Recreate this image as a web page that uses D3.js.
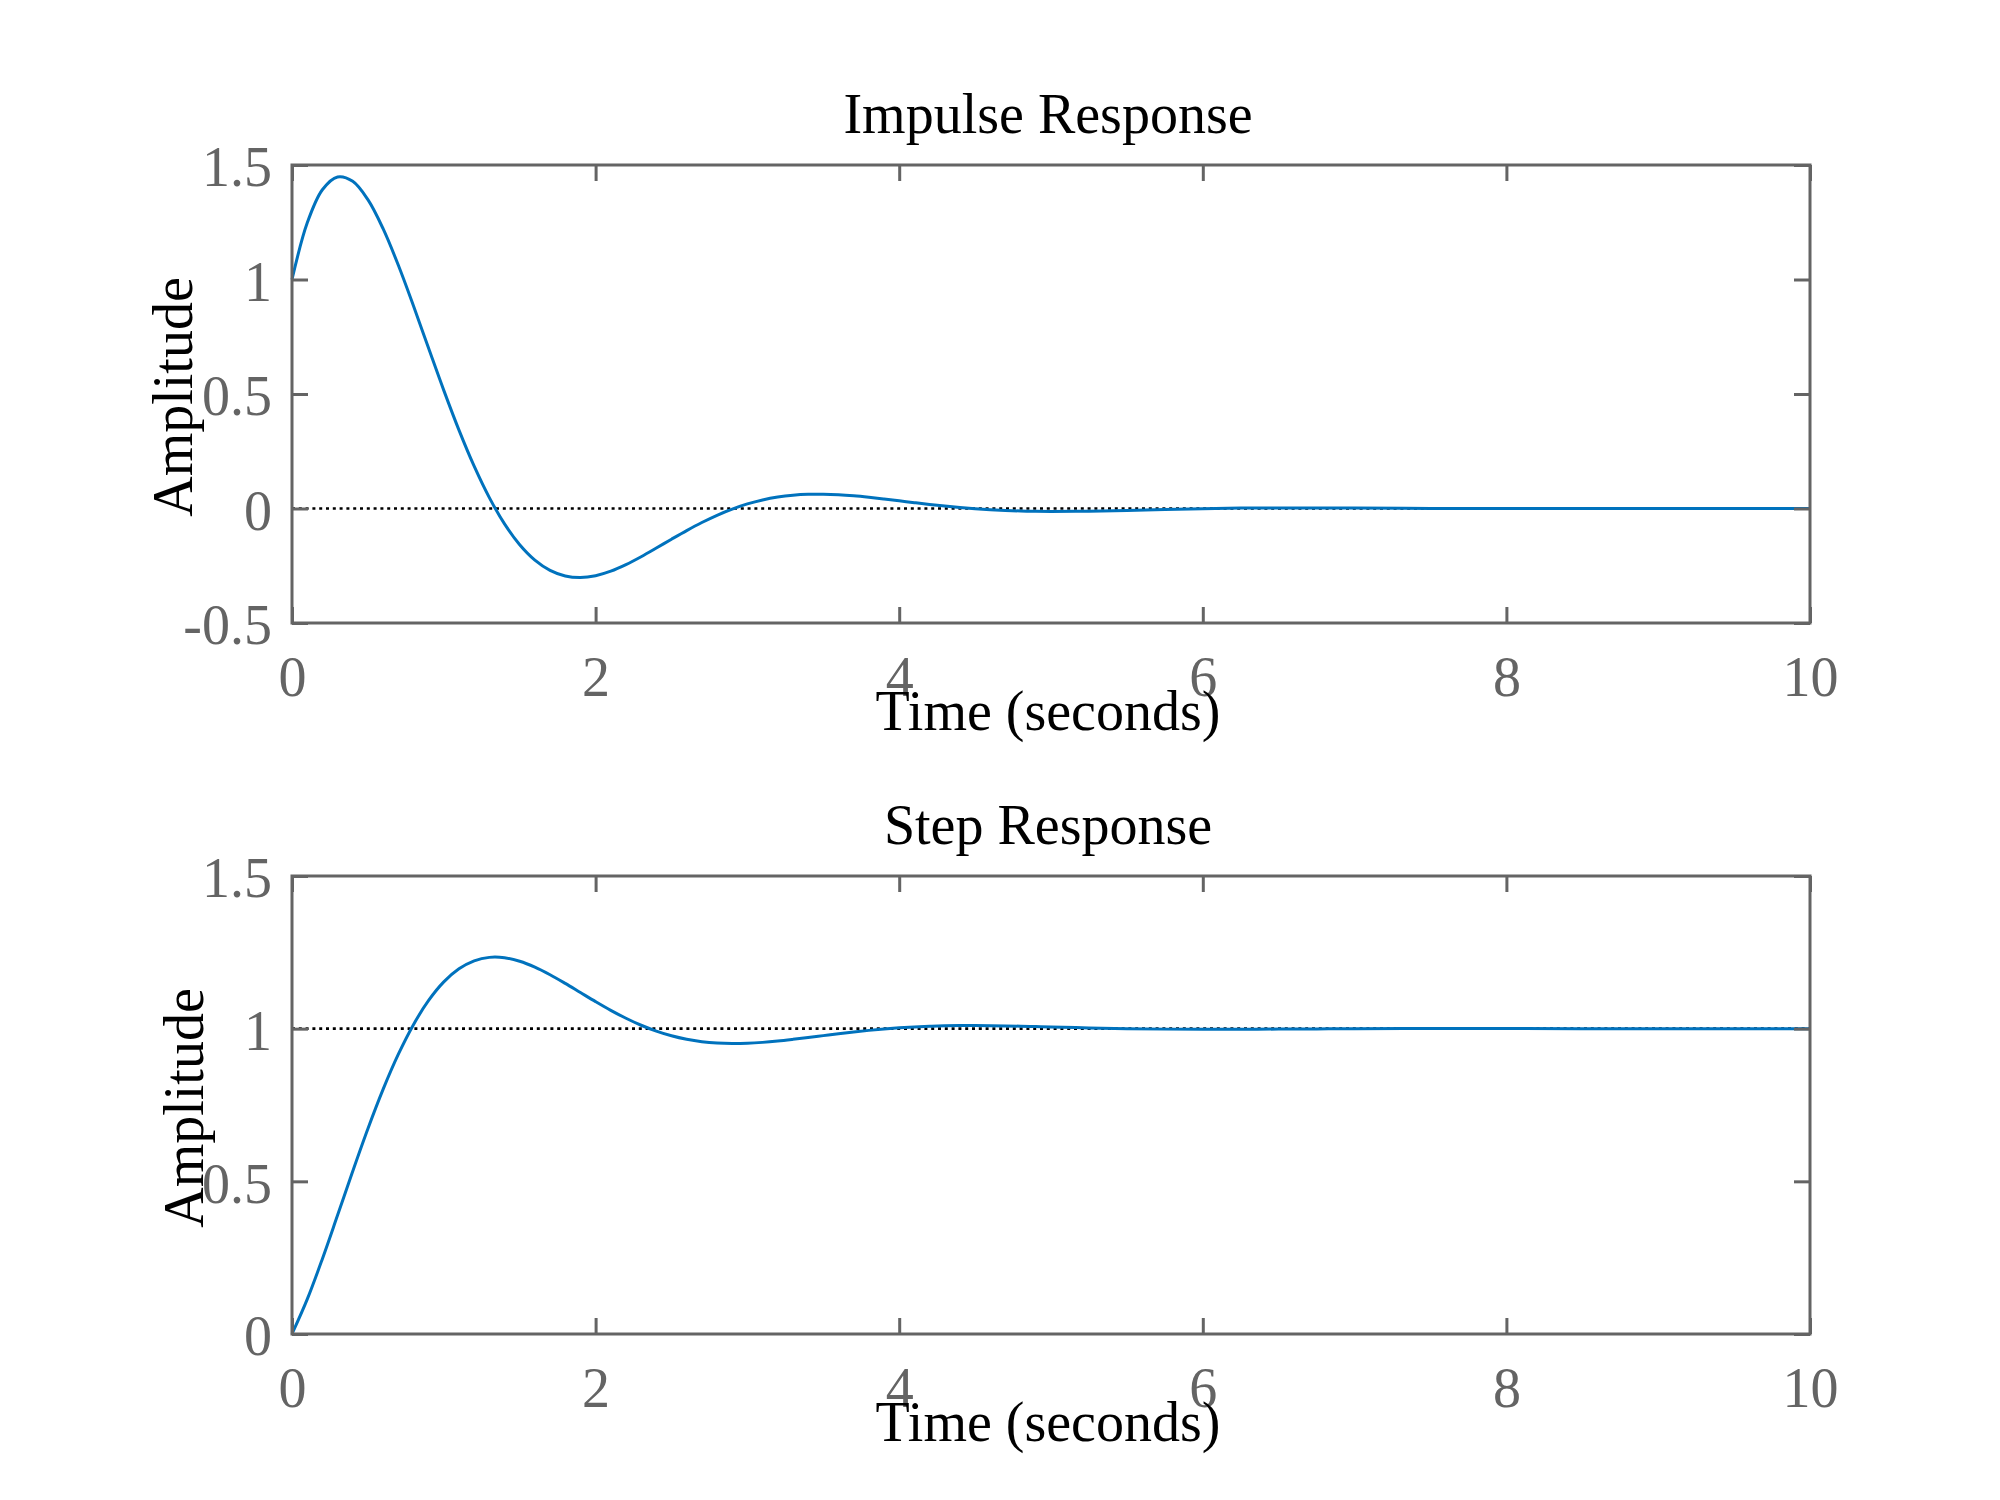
<!DOCTYPE html>
<html lang="en">

<head>
    <meta charset="UTF-8">
    <title>Impulse and Step Response</title>
    <style>
        body { margin: 0; background: #fff; }
        text { font-family: "Liberation Serif", "Times New Roman", serif; }
    </style>
</head>

<body>
    <div id="wrapper"></div>
    <script src="https://d3js.org/d3.v7.min.js"></script>
    <script>
        // time samples (seconds)
        const time = [0, 0.1, 0.2, 0.3, 0.4, 0.5, 0.6, 0.7, 0.8, 0.9,
            1.0, 1.1, 1.2, 1.3, 1.4, 1.5, 1.6, 1.7, 1.8, 1.9,
            2.0, 2.1, 2.2, 2.3, 2.4, 2.5, 2.6, 2.7, 2.8, 2.9,
            3.0, 3.1, 3.2, 3.3, 3.4, 3.5, 3.6, 3.7, 3.8, 3.9,
            4.0, 4.1, 4.2, 4.3, 4.4, 4.5, 4.6, 4.7, 4.8, 4.9,
            5.0, 5.25, 5.5, 5.75, 6.0, 6.25, 6.5, 6.75, 7.0, 7.5,
            8.0, 8.5, 9.0, 9.5, 10.0];

        // impulse response amplitude
        const impulseAmp = [1.0000, 1.2463, 1.3918, 1.4480, 1.4287, 1.3485, 1.2219, 1.0631, 0.8852, 0.6995,
            0.5159, 0.3424, 0.1848, 0.0475, -0.0671, -0.1579, -0.2251, -0.2700, -0.2945, -0.3013,
            -0.2933, -0.2735, -0.2449, -0.2105, -0.1728, -0.1341, -0.0964, -0.0612, -0.0296, -0.0024,
            0.0200, 0.0374, 0.0500, 0.0580, 0.0620, 0.0624, 0.0600, 0.0553, 0.0489, 0.0415,
            0.0336, 0.0256, 0.0178, 0.0107, 0.0044, -0.0010, -0.0053, -0.0086, -0.0110, -0.0124,
            -0.0130, -0.0117, -0.0082, -0.0040, -0.0006, 0.0017, 0.0026, 0.0026, 0.0019, 0.0003,
            -0.0005, -0.0004, -0.0001, 0.0001, 0.0001];

        // step response amplitude
        const stepAmp = [0.0000, 0.1132, 0.2459, 0.3886, 0.5330, 0.6723, 0.8011, 0.9156, 1.0131, 1.0924,
            1.1531, 1.1959, 1.2221, 1.2335, 1.2323, 1.2209, 1.2016, 1.1766, 1.1482, 1.1183,
            1.0885, 1.0600, 1.0341, 1.0112, 0.9921, 0.9767, 0.9652, 0.9573, 0.9528, 0.9513,
            0.9522, 0.9551, 0.9595, 0.9650, 0.9710, 0.9772, 0.9834, 0.9892, 0.9944, 0.9989,
            1.0027, 1.0056, 1.0078, 1.0092, 1.0100, 1.0101, 1.0098, 1.0091, 1.0081, 1.0069,
            1.0057, 1.0025, 1.0000, 0.9985, 0.9979, 0.9981, 0.9986, 0.9993, 0.9999, 1.0004,
            1.0003, 1.0001, 0.9999, 0.9999, 1.0000];

        const xTicks = [0, 2, 4, 6, 8, 10];
        const impulseYTicks = [-0.5, 0, 0.5, 1, 1.5];
        const stepYTicks = [0, 0.5, 1, 1.5];

        const width = 2000,
            height = 1500,
            gray = '#646464',
            blue = '#0072BD',
            fontSize = 56,
            tickLen = 16;

        const svg = d3.select('#wrapper').append('svg')
            .attr('width', width)
            .attr('height', height);

        // 畫一個子圖
        function drawPanel(p) {
            const left = 292, right = 1810;
            const x = d3.scaleLinear().domain([0, 10]).range([left, right]);
            const y = d3.scaleLinear().domain(p.yDomain).range([p.bottom, p.top]);
            const g = svg.append('g');

            // 參考線 (dotted)
            g.append('line')
                .attr('x1', x(0)).attr('x2', x(10))
                .attr('y1', y(p.ref)).attr('y2', y(p.ref))
                .attr('stroke', '#000')
                .attr('stroke-width', 2.6)
                .attr('stroke-dasharray', '3,3.8');

            // response curve
            const line = d3.line()
                .x((d, i) => x(time[i]))
                .y(d => y(d))
                .curve(d3.curveCatmullRom.alpha(0.5));

            g.append('path')
                .datum(p.values)
                .attr('fill', 'none')
                .attr('stroke', blue)
                .attr('stroke-width', 3)
                .attr('d', line);

            // axes, ticks pointing inward
            const styleAxis = (sel) => {
                sel.select('.domain').remove();
                sel.selectAll('.tick line').attr('stroke', gray).attr('stroke-width', 3);
                sel.selectAll('.tick text')
                    .attr('fill', gray)
                    .style('font-size', fontSize + 'px')
                    .style('font-family', '"Liberation Serif", serif');
            };

            g.append('g')
                .attr('transform', `translate(0,${p.bottom})`)
                .call(d3.axisBottom(x).tickValues(xTicks).tickSizeInner(-tickLen).tickSizeOuter(0).tickFormat(d3.format('d')))
                .call(styleAxis)
                .call(s => s.selectAll('.tick text').attr('y', 33).attr('dy', '0.71em'));

            g.append('g')
                .attr('transform', `translate(0,${p.top})`)
                .call(d3.axisTop(x).tickValues(xTicks).tickSizeInner(-tickLen).tickSizeOuter(0).tickFormat(''))
                .call(styleAxis);

            g.append('g')
                .attr('transform', `translate(${left},0)`)
                .call(d3.axisLeft(y).tickValues(p.yTicks).tickSizeInner(-tickLen).tickSizeOuter(0).tickFormat(d => String(d)))
                .call(styleAxis)
                .call(s => s.selectAll('.tick text').attr('x', -20).attr('dy', '0.37em'));

            g.append('g')
                .attr('transform', `translate(${right},0)`)
                .call(d3.axisRight(y).tickValues(p.yTicks).tickSizeInner(-tickLen).tickSizeOuter(0).tickFormat(''))
                .call(styleAxis);

            // box
            g.append('rect')
                .attr('x', left).attr('y', p.top)
                .attr('width', right - left).attr('height', p.bottom - p.top)
                .attr('fill', 'none')
                .attr('stroke', gray)
                .attr('stroke-width', 3);

            // title
            g.append('text')
                .attr('x', (left + right) / 2 - 3)
                .attr('y', p.top - 32)
                .attr('text-anchor', 'middle')
                .style('font-size', fontSize + 'px')
                .attr('fill', '#000')
                .text(p.title);

            // x label
            g.append('text')
                .attr('x', (left + right) / 2 - 3)
                .attr('y', p.bottom + 107)
                .attr('text-anchor', 'middle')
                .style('font-size', fontSize + 'px')
                .attr('fill', '#000')
                .text('Time (seconds)');

            // y label
            g.append('text')
                .attr('transform', `translate(${p.yLabelX},${(p.top + p.bottom) / 2 + 3}) rotate(-90)`)
                .attr('text-anchor', 'middle')
                .style('font-size', fontSize + 'px')
                .attr('fill', '#000')
                .text('Amplitude');
        }

        drawPanel({
            title: 'Impulse Response',
            values: impulseAmp,
            yDomain: [-0.5, 1.5],
            yTicks: impulseYTicks,
            ref: 0,
            top: 165,
            bottom: 623,
            yLabelX: 192
        });

        drawPanel({
            title: 'Step Response',
            values: stepAmp,
            yDomain: [0, 1.5],
            yTicks: stepYTicks,
            ref: 1,
            top: 876,
            bottom: 1334,
            yLabelX: 203
        });
    </script>
</body>

</html>
